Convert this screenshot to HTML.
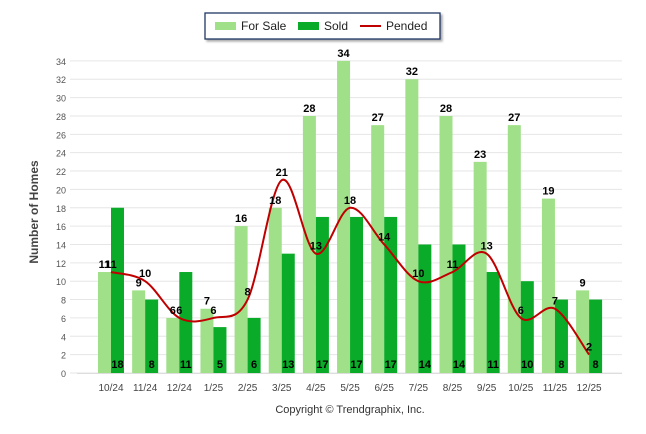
<!DOCTYPE html>
<html><head><meta charset="utf-8"><style>
body{margin:0;background:#fff;font-family:"Liberation Sans",sans-serif}
svg{display:block}
</style></head><body>
<svg width="646" height="434">
<g id="grid"></g><g id="bars"></g><g id="line"></g><g id="labels"></g>
<g>
<rect x="205" y="13" width="235" height="26" fill="#fff" stroke="#1f3864" stroke-width="1.3" style="filter:drop-shadow(2px 2px 1px #aaa)"/>
<rect x="215" y="22" width="21" height="8" fill="#a0e088"/>
<text x="241" y="30" font-size="12" fill="#222">For Sale</text>
<rect x="298" y="22" width="21" height="8" fill="#0aab28"/>
<text x="324" y="30" font-size="12" fill="#222">Sold</text>
<line x1="360" y1="26" x2="381" y2="26" stroke="#c00000" stroke-width="2"/>
<text x="386" y="30" font-size="12" fill="#222">Pended</text>
</g>
<text x="38" y="212" transform="rotate(-90 38 212)" text-anchor="middle" font-size="12" font-weight="bold" fill="#444">Number of Homes</text>
<text x="350" y="413" text-anchor="middle" font-size="11" fill="#333">Copyright © Trendgraphix, Inc.</text>
</svg>
<script>
const categories=["10/24","11/24","12/24","1/25","2/25","3/25","4/25","5/25","6/25","7/25","8/25","9/25","10/25","11/25","12/25"];
const forSale=[11,9,6,7,16,18,28,34,27,32,28,23,27,19,9];
const sold=[18,8,11,5,6,13,17,17,17,14,14,11,10,8,8];
const pended=[11,10,6,6,8,21,13,18,14,10,11,13,6,7,2];
const yTicks=[0,2,4,6,8,10,12,14,16,18,20,22,24,26,28,30,32,34];
const NS="http://www.w3.org/2000/svg";
const y=v=>373-v*9.18;
const x=i=>111+i*34.15;
function mk(tag,attrs,parent,txt){const e=document.createElementNS(NS,tag);for(const k in attrs)e.setAttribute(k,attrs[k]);if(txt!==undefined)e.textContent=txt;document.getElementById(parent).appendChild(e);return e;}
yTicks.forEach(t=>{
 const l=mk("line",{x1:70,x2:622,y1:y(t),y2:y(t),stroke:"#e6e6e6"},"grid");
 
 
 const tx=mk("text",{x:66,y:y(t)+4,"text-anchor":"end","font-size":"9",fill:"#555"},"grid",t);
 
 
});
mk("line",{x1:77,x2:622,y1:373.5,y2:373.5,stroke:"#ddd"},"grid");
categories.forEach((c,i)=>{
 const tx=mk("text",{x:x(i),y:391,"text-anchor":"middle","font-size":"10",fill:"#444"},"grid",c);
 
 
 const b1=mk("rect",{x:x(i)-13,y:y(forSale[i]),width:13,height:373-y(forSale[i]),fill:"#a0e088"},"bars");
 
 
 const b2=mk("rect",{x:x(i),y:y(sold[i]),width:13,height:373-y(sold[i]),fill:"#0aab28"},"bars");
 
 
 const l1=mk("text",{x:x(i)-6.5,y:y(forSale[i])-4,"text-anchor":"middle","font-size":"11","font-weight":"bold",fill:"#000"},"labels",forSale[i]);
 
 
 const l2=mk("text",{x:x(i)+6.5,y:368,"text-anchor":"middle","font-size":"11","font-weight":"bold",fill:"#000"},"labels",sold[i]);
 
 
 const l3=mk("text",{x:x(i),y:y(pended[i])-4,"text-anchor":"middle","font-size":"11","font-weight":"bold",fill:"#000"},"labels",pended[i]);
 
 
});
// smooth line (Catmull-Rom)
const pts=pended.map((v,i)=>[x(i),y(v)]);
let d="M"+pts[0][0]+","+pts[0][1];
for(let i=0;i<pts.length-1;i++){
 const p0=pts[Math.max(0,i-1)],p1=pts[i],p2=pts[i+1],p3=pts[Math.min(pts.length-1,i+2)];
 const c1=[p1[0]+(p2[0]-p0[0])/6,p1[1]+(p2[1]-p0[1])/6];
 const c2=[p2[0]-(p3[0]-p1[0])/6,p2[1]-(p3[1]-p1[1])/6];
 d+=` C${c1[0]},${c1[1]} ${c2[0]},${c2[1]} ${p2[0]},${p2[1]}`;
}
const pl=mk("path",{d:d,fill:"none",stroke:"#c00000","stroke-width":"2"},"line");


</script>
</body></html>
